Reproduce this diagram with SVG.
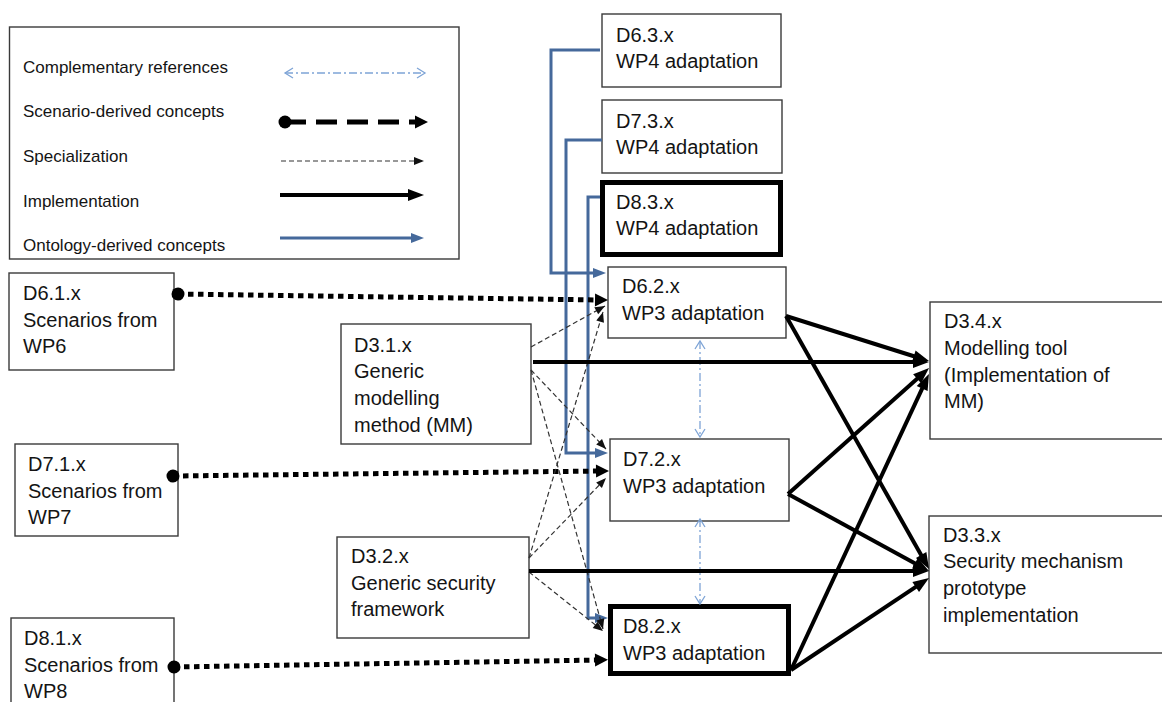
<svg xmlns="http://www.w3.org/2000/svg" width="1162" height="702" viewBox="0 0 1162 702">
  <style>
    .box { fill: #ffffff; stroke: #3a3a3a; stroke-width: 1.4; }
    .box-strong { fill: #ffffff; stroke: #000000; stroke-width: 5; }
    .t { font-family: "Liberation Sans", Arial, sans-serif; font-size: 20px; fill: #141414; }
    .lt { font-family: "Liberation Sans", Arial, sans-serif; font-size: 17px; fill: #141414; }
    .impl { fill: none; stroke: #000000; stroke-width: 4; marker-end: url(#m-imp); }
    .scen { fill: none; stroke: #000000; stroke-width: 5; stroke-dasharray: 5.5 4.5; marker-start: url(#m-dot); marker-end: url(#m-scen); }
    .spec { fill: none; stroke: #333333; stroke-width: 1.2; stroke-dasharray: 5 3; marker-end: url(#m-spec); }
    .onto { fill: none; stroke: #45699b; stroke-width: 3; marker-end: url(#m-blue); }
    .comp { fill: none; stroke: #7ea4d6; stroke-width: 1.3; stroke-dasharray: 8 3 2 3; marker-start: url(#m-open); marker-end: url(#m-open); }
  </style>
  <defs>
    <marker id="m-imp" markerUnits="userSpaceOnUse" markerWidth="18" markerHeight="14" refX="6" refY="6" orient="auto" overflow="visible">
      <path d="M0,0 L16,6 L0,12 Z" fill="#000000"/>
    </marker>
    <marker id="m-scen" markerUnits="userSpaceOnUse" markerWidth="15" markerHeight="15" refX="5" refY="6.5" orient="auto" overflow="visible">
      <path d="M0,0 L13,6.5 L0,13 Z" fill="#000000"/>
    </marker>
    <marker id="m-dot" markerUnits="userSpaceOnUse" markerWidth="14" markerHeight="14" refX="6.5" refY="6.5" orient="auto" overflow="visible">
      <circle cx="6.5" cy="6.5" r="6.5" fill="#000000"/>
    </marker>
    <marker id="m-spec" markerUnits="userSpaceOnUse" markerWidth="11" markerHeight="9" refX="10" refY="4" orient="auto" overflow="visible">
      <path d="M0,0 L10,4 L0,8 Z" fill="#111111"/>
    </marker>
    <marker id="m-blue" markerUnits="userSpaceOnUse" markerWidth="14" markerHeight="11" refX="3" refY="5" orient="auto" overflow="visible">
      <path d="M0,0 L13,5 L0,10 Z" fill="#45699b"/>
    </marker>
    <marker id="m-open" markerUnits="userSpaceOnUse" markerWidth="10" markerHeight="12" refX="8" refY="5" orient="auto-start-reverse" overflow="visible">
      <path d="M0,0 L8,5 L0,10" fill="none" stroke="#7ea4d6" stroke-width="1.3"/>
    </marker>
  </defs>

  <rect width="1162" height="702" fill="#ffffff"/>

  <!-- Legend -->
  <g id="legend">
    <rect class="box" x="9.5" y="27" width="449.5" height="232"/>
    <text class="lt" x="23" y="73">Complementary references</text>
    <text class="lt" x="23" y="117">Scenario-derived concepts</text>
    <text class="lt" x="23" y="162">Specialization</text>
    <text class="lt" x="23" y="207">Implementation</text>
    <text class="lt" x="23" y="251">Ontology-derived concepts</text>
    <path class="comp" d="M285,73 H425"/>
    <path d="M285,122 H420" fill="none" stroke="#000000" stroke-width="5" stroke-dasharray="21 10" marker-start="url(#m-dot)" marker-end="url(#m-scen)"/>
    <path class="spec" d="M281,161 H424"/>
    <path class="impl" d="M280,195 H414"/>
    <path class="onto" d="M280,238 H414"/>
  </g>

  <!-- Nodes -->
  <g id="d63">
    <rect class="box" x="602" y="14" width="179" height="73"/>
    <text class="t" x="616" y="42">D6.3.x</text>
    <text class="t" x="616" y="68">WP4 adaptation</text>
  </g>
  <g id="d73">
    <rect class="box" x="602" y="100" width="180" height="73"/>
    <text class="t" x="616" y="128">D7.3.x</text>
    <text class="t" x="616" y="154">WP4 adaptation</text>
  </g>
  <g id="d83">
    <rect class="box-strong" x="602.5" y="182.5" width="178" height="72"/>
    <text class="t" x="616" y="209">D8.3.x</text>
    <text class="t" x="616" y="235">WP4 adaptation</text>
  </g>
  <g id="d61">
    <rect class="box" x="9" y="273" width="165" height="97"/>
    <text class="t" x="23" y="300">D6.1.x</text>
    <text class="t" x="23" y="327">Scenarios from</text>
    <text class="t" x="23" y="353">WP6</text>
  </g>
  <g id="d71">
    <rect class="box" x="15" y="444" width="163" height="92"/>
    <text class="t" x="28" y="471">D7.1.x</text>
    <text class="t" x="28" y="498">Scenarios from</text>
    <text class="t" x="28" y="524">WP7</text>
  </g>
  <g id="d81">
    <rect class="box" x="11" y="618" width="163" height="100"/>
    <text class="t" x="24" y="645">D8.1.x</text>
    <text class="t" x="24" y="672">Scenarios from</text>
    <text class="t" x="24" y="698">WP8</text>
  </g>
  <g id="d31">
    <rect class="box" x="341" y="324" width="190" height="120"/>
    <text class="t" x="354" y="352">D3.1.x</text>
    <text class="t" x="354" y="378">Generic</text>
    <text class="t" x="354" y="405">modelling</text>
    <text class="t" x="354" y="432">method (MM)</text>
  </g>
  <g id="d32">
    <rect class="box" x="337" y="537" width="192" height="101"/>
    <text class="t" x="351" y="563">D3.2.x</text>
    <text class="t" x="351" y="590">Generic security</text>
    <text class="t" x="351" y="616">framework</text>
  </g>
  <g id="d62">
    <rect class="box" x="608" y="267" width="178" height="71"/>
    <text class="t" x="622" y="293">D6.2.x</text>
    <text class="t" x="622" y="320">WP3 adaptation</text>
  </g>
  <g id="d72">
    <rect class="box" x="610" y="439" width="179" height="82"/>
    <text class="t" x="623" y="466">D7.2.x</text>
    <text class="t" x="623" y="493">WP3 adaptation</text>
  </g>
  <g id="d82">
    <rect class="box-strong" x="610.5" y="606.5" width="178" height="67"/>
    <text class="t" x="623" y="633">D8.2.x</text>
    <text class="t" x="623" y="660">WP3 adaptation</text>
  </g>
  <g id="d34">
    <rect class="box" x="930" y="302" width="260" height="137"/>
    <text class="t" x="944" y="328">D3.4.x</text>
    <text class="t" x="944" y="355">Modelling tool</text>
    <text class="t" x="944" y="382">(Implementation of</text>
    <text class="t" x="944" y="408">MM)</text>
  </g>
  <g id="d33">
    <rect class="box" x="929" y="516" width="260" height="137"/>
    <text class="t" x="943" y="542">D3.3.x</text>
    <text class="t" x="943" y="568">Security mechanism</text>
    <text class="t" x="943" y="595">prototype</text>
    <text class="t" x="943" y="622">implementation</text>
  </g>

  <!-- Connectors -->
  <g id="connectors">
    <!-- ontology-derived concepts -->
    <path class="onto" d="M600,50 H551 V273 H596"/>
    <path class="onto" d="M602,140 H566 V453 H598"/>
    <path class="onto" d="M600,197 H588 V618 H598"/>

    <!-- scenario-derived concepts -->
    <path class="scen" d="M178,294 L600,300"/>
    <path class="scen" d="M173,476 L601,471"/>
    <path class="scen" d="M174,667 L600,660"/>

    <!-- specialization -->
    <path class="spec" d="M531,347 L605,306"/>
    <path class="spec" d="M531,370 L606,449"/>
    <path class="spec" d="M531,370 L603,629"/>
    <path class="spec" d="M529,558 L603,312"/>
    <path class="spec" d="M529,558 L606,478"/>
    <path class="spec" d="M529,572 L603,631"/>

    <!-- complementary references -->
    <path class="comp" d="M700,341 V437"/>
    <path class="comp" d="M700,519 V604"/>

    <!-- implementation into D3.4.x -->
    <path class="impl" d="M786,316 L919.5,358"/>
    <path class="impl" d="M533,362 H919"/>
    <path class="impl" d="M788,494 L921.6,374.7"/>
    <path class="impl" d="M791,670 L924.7,383.1"/>

    <!-- implementation into D3.3.x -->
    <path class="impl" d="M786,316 L924.1,560.3"/>
    <path class="impl" d="M788,494 L920.2,566.2"/>
    <path class="impl" d="M529,571 H919"/>
    <path class="impl" d="M791,670 L920.7,583.6"/>
  </g>
</svg>
